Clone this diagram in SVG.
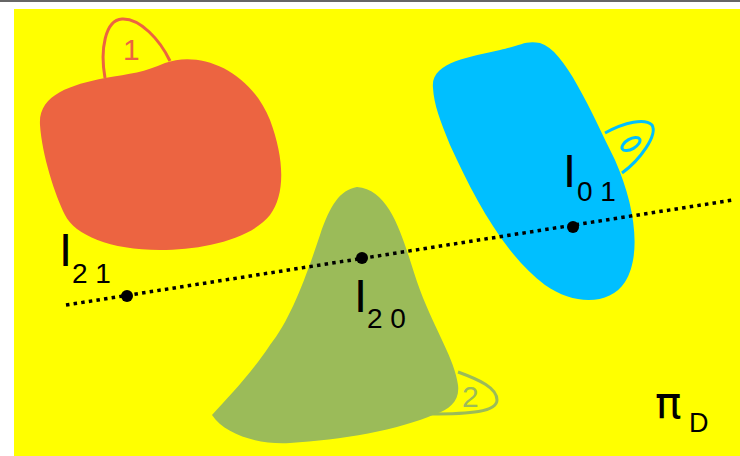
<svg xmlns="http://www.w3.org/2000/svg" width="740" height="456" viewBox="0 0 740 456">
<style>
.lbl{font-family:"Liberation Sans",Arial,sans-serif;fill:#000}
.big{font-size:47px}
.sub{font-size:28px}
.loop{fill:none;stroke-width:3}
.num{font-family:"Liberation Sans",Arial,sans-serif;font-size:30px}
</style>
<rect x="0" y="0" width="740" height="456" fill="#fff"/>
<rect x="0" y="0" width="740" height="2" fill="#666"/>
<rect x="14" y="9" width="726" height="447" fill="#ffff00"/>
<g id="region1">
<path d="M105,78 C100,50 105,20 122,19 C140,18 160,40 170,61" class="loop" stroke="#ec6441"/>
<path d="M40,125 C38,95 70,85 105,78 C130,74 145,72 165,63 C200,50 250,70 270,120 C285,160 285,195 270,215 C250,240 200,250 160,250 C110,250 75,235 65,215 C55,195 42,155 40,125 Z" fill="#ec6441"/>
<text x="123" y="60" class="num" fill="#ec6441">1</text>
</g>
<g id="region0">
<path d="M605,133 C625,122 645,118 652,125 C658,135 640,160 622,173" class="loop" stroke="#00bfff"/>
<ellipse cx="631" cy="144" rx="10" ry="5" transform="rotate(-30 631 144)" class="loop" stroke="#00bfff"/>
<path d="M433,88 C430,62 470,57 500,50 C520,46 525,40 540,43 C565,50 590,110 615,160 C635,205 642,255 625,282 C610,305 575,306 545,285 C505,255 475,200 450,145 C440,120 434,105 433,88 Z" fill="#00bfff"/>
</g>
<g id="region2">
<path d="M458,372 C480,380 497,388 497,400 C497,412 470,414 430,414" class="loop" stroke="#9bbb59"/>
<path d="M357,187 C340,190 330,205 320,235 C305,280 290,320 270,345 C250,375 230,395 212,415 C225,435 260,445 290,443 C340,440 400,430 435,414 C450,410 460,400 458,385 C455,360 435,330 420,290 C405,250 395,190 357,187 Z" fill="#9bbb59"/>
<text x="462" y="407" class="num" fill="#9bbb59">2</text>
</g>
<g id="connectors">
<path d="M66,305 L733,200" stroke="#000" stroke-width="3.5" stroke-dasharray="3.5 4.2" fill="none"/>
</g>
<g id="I21">
<circle cx="127" cy="296" r="6" fill="#000"/>
<text x="59" y="266" class="lbl big">I</text>
<text x="72" y="283" class="lbl sub">2 1</text>
</g>
<g id="I20">
<circle cx="362" cy="258" r="6" fill="#000"/>
<text x="354" y="312" class="lbl big">I</text>
<text x="367" y="328" class="lbl sub">2 0</text>
</g>
<g id="I01">
<circle cx="573" cy="227" r="6" fill="#000"/>
<text x="563" y="187" class="lbl big">I</text>
<text x="577" y="201" class="lbl sub">0 1</text>
</g>
<g id="piD">
<text x="655" y="418" font-family="DejaVu Sans,sans-serif" font-size="44" fill="#000">π</text>
<text x="689" y="432" class="lbl" font-size="27">D</text>
</g>
</svg>
